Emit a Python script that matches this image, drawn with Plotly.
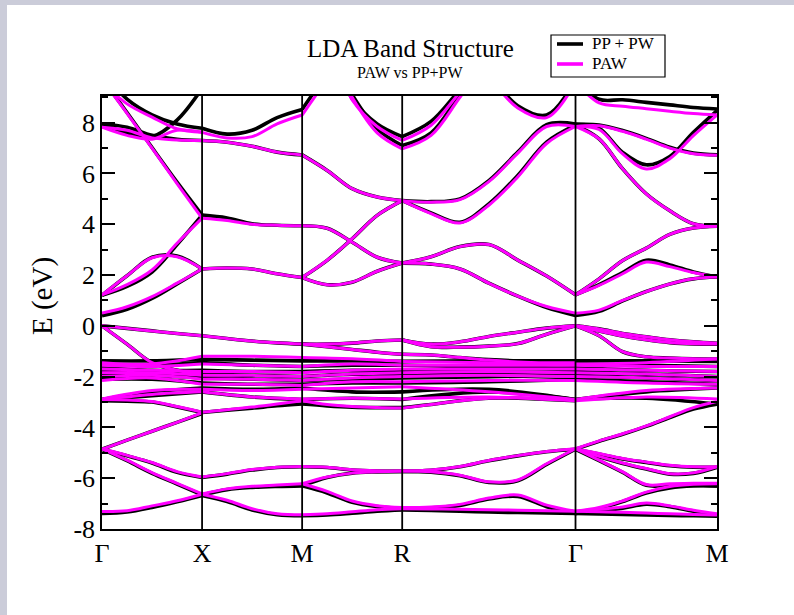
import plotly.graph_objects as go

# ---------------- data ----------------
K_NODES = [0.0, 0.5, 1.0, 1.5, 2.366, 3.073]
K_LABELS = ["Γ", "X", "M", "R", "Γ", "M"]
Y_TICKS = [-8, -6, -4, -2, 0, 2, 4, 6, 8]
Y_TICK_TEXT = ["-8", "-6", "-4", "-2", "0", "2", "4", "6", "8"]

# Energies (eV) sampled at equal steps along each path segment
# Segment 0: Gamma - X
PPPW_GX = [
    [1.2, 1.97, 2.7, 2.75, 2.24], [1.2, 1.55, 2.12, 3.2, 4.36], [9.75, 8.4, 7.02, 5.66, 4.36],
    [0.4, 0.65, 1.08, 1.65, 2.24], [7.95, 7.82, 7.5, 7.35, 7.3], [7.95, 7.6, 7.45, 8.1, 9.35],
    [10.0, 8.93, 8.31, 7.95, 7.78], [0, -0.1, -0.2, -0.3, -0.39], [0, -0.72, -1.45, -1.75, -1.9],
    [-2.95, -2.97, -3.0, -3.2, -3.41], [-4.86, -4.5, -4.15, -3.8, -3.45],
    [-4.86, -5.12, -5.4, -5.77, -5.97], [-4.86, -5.31, -5.81, -6.23, -6.66],
    [-7.39, -7.33, -7.15, -6.93, -6.68],
]
PAW_GX = [
    [1.22, 1.97, 2.68, 2.72, 2.24], [1.22, 1.62, 2.2, 3.25, 4.24], [9.7, 8.37, 7.0, 5.6, 4.24],
    [0.5, 0.75, 1.15, 1.68, 2.24], [7.82, 7.7, 7.4, 7.32, 7.3], [7.82, 7.5, 7.35, 7.7, 7.62],
    [9.6, 8.74, 8.22, 7.76, 7.62], [0, -0.1, -0.2, -0.3, -0.39], [0, -0.72, -1.45, -1.75, -1.9],
    [-2.9, -2.92, -2.98, -3.18, -3.4], [-4.86, -4.5, -4.15, -3.8, -3.43],
    [-4.84, -5.1, -5.38, -5.74, -5.95], [-4.84, -5.29, -5.78, -6.2, -6.62],
    [-7.31, -7.28, -7.09, -6.89, -6.63],
]
# Segment 1: X - M
PPPW_XM = [
    [4.36, 4.25, 4.02, 3.96, 3.94], [2.24, 2.28, 2.24, 2.05, 1.9], [7.3, 7.23, 7.07, 6.84, 6.73],
    [7.78, 7.55, 7.7, 8.2, 8.52], [-0.39, -0.5, -0.6, -0.67, -0.72],
    [-3.41, -3.32, -3.24, -3.15, -3.08], [-5.97, -5.84, -5.68, -5.58, -5.55],
    [-6.66, -6.45, -6.36, -6.32, -6.3], [-6.68, -6.92, -7.25, -7.44, -7.48],
]
PAW_XM = [
    [4.24, 4.15, 4.0, 3.96, 3.94], [2.24, 2.28, 2.24, 2.05, 1.9], [7.3, 7.23, 7.07, 6.84, 6.73],
    [7.62, 7.4, 7.45, 7.95, 8.3], [-0.39, -0.5, -0.6, -0.67, -0.72],
    [-3.4, -3.3, -3.2, -3.08, -2.95], [-5.95, -5.82, -5.66, -5.57, -5.54],
    [-6.62, -6.42, -6.32, -6.27, -6.22], [-6.63, -6.87, -7.2, -7.4, -7.44],
]
# Segment 2: M - R
PPPW_MR = [
    [6.73, 6.12, 5.4, 5.07, 4.93], [3.94, 3.84, 3.29, 2.7, 2.47], [1.9, 2.58, 3.43, 4.35, 4.93],
    [1.9, 1.62, 1.72, 2.15, 2.47], [8.52, 9.9, 11, 11, 11], [11, 11, 8.95, 7.95, 7.45],
    [11, 11, 9.1, 7.75, 7.1], [-0.72, -0.72, -0.68, -0.6, -0.56], [-0.72, -0.82, -0.93, -1.04, -1.12],
    [-3.08, -3.15, -3.2, -3.22, -3.22], [-5.55, -5.58, -5.68, -5.72, -5.73],
    [-6.3, -5.97, -5.8, -5.75, -5.73], [-6.3, -6.58, -6.95, -7.12, -7.2],
    [-7.48, -7.45, -7.38, -7.3, -7.25],
]
PAW_MR = [
    [6.73, 6.12, 5.4, 5.07, 4.93], [3.94, 3.84, 3.29, 2.7, 2.47], [1.9, 2.58, 3.43, 4.35, 4.93],
    [1.9, 1.62, 1.72, 2.15, 2.47], [8.3, 9.7, 11, 11, 11], [11, 11, 8.9, 7.85, 7.3],
    [11, 11, 9.0, 7.6, 6.97], [-0.72, -0.72, -0.68, -0.6, -0.56], [-0.72, -0.82, -0.93, -1.04, -1.12],
    [-2.95, -3.1, -3.18, -3.22, -3.24], [-5.54, -5.57, -5.67, -5.71, -5.72],
    [-6.22, -5.95, -5.8, -5.75, -5.72], [-6.22, -6.52, -6.9, -7.08, -7.15],
    [-7.44, -7.4, -7.32, -7.24, -7.2],
]
# Segment 3: R - Gamma
PPPW_RG = [
    [4.93, 4.89, 5.0, 5.72, 6.84, 7.92, 7.95], [4.93, 4.45, 4.08, 4.8, 5.92, 7.23, 7.9],
    [2.47, 2.72, 3.12, 3.2, 2.59, 1.96, 1.22], [2.47, 2.43, 2.24, 1.68, 1.17, 0.72, 0.41],
    [7.45, 8.05, 9.3, 10.5, 11, 11, 11], [7.1, 7.6, 9.1, 10.5, 11, 11, 11],
    [11, 11, 11, 9.9, 8.67, 8.3, 9.7],
    [-0.56, -0.72, -0.63, -0.42, -0.25, -0.09, 0], [-0.56, -0.82, -0.84, -0.8, -0.7, -0.33, 0],
    [-1.12, -1.15, -1.25, -1.33, -1.38, -1.38, -1.38],
    [-3.22, -3.1, -2.95, -2.85, -2.85, -2.9, -2.95],
    [-5.73, -5.69, -5.55, -5.31, -5.12, -4.96, -4.86], [-5.73, -5.76, -5.9, -6.17, -6.1, -5.46, -4.86],
    [-7.2, -7.17, -7.07, -6.82, -6.72, -7.12, -7.39], [-7.25, -7.27, -7.3, -7.33, -7.35, -7.37, -7.39],
]
PAW_RG = [
    [4.93, 4.87, 4.97, 5.68, 6.8, 7.85, 7.85], [4.93, 4.42, 4.05, 4.75, 5.86, 7.18, 7.85],
    [2.47, 2.72, 3.12, 3.2, 2.59, 1.96, 1.22], [2.47, 2.43, 2.24, 1.68, 1.17, 0.76, 0.5],
    [7.3, 7.9, 9.2, 10.5, 11, 11, 11], [6.97, 7.5, 9.0, 10.5, 11, 11, 11],
    [11, 11, 11, 9.8, 8.58, 8.2, 9.6],
    [-0.56, -0.72, -0.63, -0.42, -0.25, -0.09, 0], [-0.56, -0.82, -0.84, -0.8, -0.7, -0.33, 0],
    [-1.12, -1.15, -1.25, -1.35, -1.42, -1.45, -1.45],
    [-3.24, -3.1, -2.95, -2.85, -2.83, -2.88, -2.9],
    [-5.72, -5.68, -5.54, -5.3, -5.11, -4.95, -4.84], [-5.72, -5.75, -5.88, -6.14, -6.07, -5.43, -4.84],
    [-7.15, -7.13, -7.03, -6.78, -6.66, -7.06, -7.3], [-7.2, -7.21, -7.22, -7.24, -7.26, -7.28, -7.3],
]
# Segment 4: Gamma - M
PPPW_GM = [
    [1.22, 1.62, 2.1, 2.58, 2.4, 2.12, 1.92], [1.22, 1.85, 2.57, 3.06, 3.6, 3.85, 3.92],
    [0.41, 0.57, 0.98, 1.35, 1.65, 1.85, 1.92], [7.9, 7.36, 6.18, 5.2, 4.53, 4.02, 3.92],
    [7.95, 7.78, 6.83, 6.34, 6.67, 7.62, 8.48], [7.93, 7.91, 7.69, 7.38, 7.03, 6.8, 6.73],
    [9.7, 8.92, 8.9, 8.8, 8.7, 8.6, 8.54],
    [0, -0.12, -0.3, -0.43, -0.55, -0.63, -0.69], [0, -0.2, -0.4, -0.55, -0.66, -0.71, -0.72],
    [0, -0.39, -1.02, -1.22, -1.27, -1.3, -1.31],
    [-4.86, -4.55, -4.27, -3.96, -3.61, -3.28, -3.08], [-4.86, -5.05, -5.24, -5.38, -5.51, -5.57, -5.57],
    [-4.86, -5.16, -5.42, -5.64, -5.84, -5.81, -5.57], [-4.86, -5.31, -5.77, -6.28, -6.28, -6.28, -6.3],
    [-7.39, -7.2, -6.92, -6.58, -6.38, -6.3, -6.3], [-7.39, -7.3, -7.18, -7.02, -7.12, -7.3, -7.45],
    [-7.39, -7.41, -7.43, -7.45, -7.47, -7.48, -7.5],
]
PAW_GM = [
    [1.22, 1.59, 2.05, 2.51, 2.33, 2.1, 1.92], [1.22, 1.85, 2.57, 3.06, 3.6, 3.85, 3.92],
    [0.5, 0.62, 1.0, 1.35, 1.65, 1.85, 1.92], [7.85, 7.36, 6.18, 5.2, 4.53, 4.02, 3.92],
    [7.85, 7.73, 6.77, 6.18, 6.58, 7.49, 8.3], [7.85, 7.88, 7.66, 7.35, 7.0, 6.78, 6.72],
    [9.6, 8.78, 8.65, 8.55, 8.45, 8.36, 8.3],
    [0, -0.12, -0.3, -0.43, -0.55, -0.63, -0.69], [0, -0.2, -0.4, -0.55, -0.66, -0.71, -0.72],
    [0, -0.39, -1.02, -1.22, -1.27, -1.3, -1.31],
    [-4.84, -4.53, -4.25, -3.94, -3.58, -3.22, -2.98], [-4.84, -5.03, -5.22, -5.36, -5.49, -5.55, -5.55],
    [-4.84, -5.14, -5.4, -5.62, -5.82, -5.79, -5.55], [-4.84, -5.29, -5.75, -6.25, -6.22, -6.2, -6.2],
    [-7.3, -7.15, -6.89, -6.55, -6.33, -6.24, -6.22], [-7.3, -7.22, -7.13, -6.98, -7.09, -7.26, -7.4],
    [-7.3, -7.32, -7.34, -7.37, -7.4, -7.43, -7.45],
]
# Dense manifold between -1.2 and -3.1 eV (start, middle, end of each segment)
PPPW_TANGLE = [
    [[-1.38, -1.38, -1.32], [-1.5, -1.55, -1.45], [-1.65, -1.75, -1.75], [-1.8, -1.85, -1.9],
     [-1.95, -1.95, -2.05], [-2.1, -2.1, -2.25], [-2.9, -2.6, -2.45], [-2.9, -2.75, -2.6]],
    [[-1.32, -1.35, -1.38], [-1.45, -1.55, -1.6], [-1.75, -1.8, -1.8], [-1.9, -1.95, -2.0],
     [-2.05, -2.1, -2.15], [-2.25, -2.3, -2.3], [-2.45, -2.5, -2.45], [-2.6, -2.8, -2.9]],
    [[-1.38, -1.38, -1.4], [-1.6, -1.55, -1.55], [-1.8, -1.75, -1.75], [-2.0, -1.9, -1.9],
     [-2.15, -2.1, -2.05], [-2.3, -2.25, -2.25], [-2.45, -2.6, -2.6], [-2.9, -2.85, -2.9]],
    [[-1.4, -1.38, -1.38], [-1.55, -1.6, -1.5], [-1.75, -1.7, -1.65], [-1.9, -1.85, -1.8],
     [-2.05, -2.0, -1.95], [-2.25, -2.2, -2.1], [-2.6, -2.5, -2.9], [-2.9, -2.6, -2.9]],
    [[-1.38, -1.38, -1.4], [-1.5, -1.55, -1.6], [-1.65, -1.75, -1.8], [-1.8, -1.9, -2.0],
     [-1.95, -2.05, -2.15], [-2.1, -2.2, -2.3], [-2.9, -2.6, -2.45], [-2.9, -2.85, -3.08]],
]
PAW_TANGLE = [
    [[-1.45, -1.5, -1.2], [-1.55, -1.6, -1.5], [-1.7, -1.75, -1.8], [-1.85, -1.85, -1.95],
     [-2.0, -1.95, -2.1], [-2.15, -2.05, -2.3], [-2.88, -2.55, -2.5], [-2.9, -2.7, -2.6]],
    [[-1.2, -1.2, -1.25], [-1.5, -1.55, -1.6], [-1.8, -1.8, -1.85], [-1.95, -1.95, -2.0],
     [-2.1, -2.1, -2.15], [-2.3, -2.3, -2.35], [-2.5, -2.55, -2.5], [-2.6, -2.8, -2.88]],
    [[-1.25, -1.3, -1.4], [-1.6, -1.5, -1.55], [-1.85, -1.75, -1.7], [-2.0, -1.9, -1.85],
     [-2.15, -2.05, -2.0], [-2.35, -2.2, -2.2], [-2.5, -2.45, -2.4], [-2.88, -2.85, -2.88]],
    [[-1.4, -1.45, -1.5], [-1.55, -1.55, -1.55], [-1.7, -1.7, -1.7], [-1.85, -1.8, -1.85],
     [-2.0, -1.95, -2.0], [-2.2, -2.15, -2.15], [-2.4, -2.6, -2.9], [-2.88, -2.8, -2.95]],
    [[-1.5, -1.45, -1.3], [-1.55, -1.6, -1.6], [-1.7, -1.75, -1.8], [-1.85, -1.9, -2.0],
     [-2.0, -2.05, -2.15], [-2.15, -2.25, -2.3], [-2.9, -2.55, -2.45], [-2.95, -2.8, -2.88]],
]

PPPW_SEGMENTS = [PPPW_GX, PPPW_XM, PPPW_MR, PPPW_RG, PPPW_GM]
PAW_SEGMENTS = [PAW_GX, PAW_XM, PAW_MR, PAW_RG, PAW_GM]

# ---------------- build ----------------
def build(segments, tangle):
    xs, ys = [], []
    for s in range(5):
        k0, k1 = K_NODES[s], K_NODES[s + 1]
        for curve in segments[s] + tangle[s]:
            n = len(curve)
            for i, e in enumerate(curve):
                xs.append(k0 + (k1 - k0) * i / (n - 1))
                ys.append(e)
            xs.append(None)
            ys.append(None)
    return xs, ys

bx, by = build(PPPW_SEGMENTS, PPPW_TANGLE)
mx, my = build(PAW_SEGMENTS, PAW_TANGLE)

FONT = "Liberation Serif, Times New Roman, serif"
GRAY = "#cbccd9"
L, R, T, B = 102, 77, 96, 86
W, H = 794, 615
PW, PH = W - L - R, H - T - B

def px(x):
    return (x - L) / PW

def py(y):
    return (H - B - y) / PH

fig = go.Figure()
fig.add_trace(go.Scatter(x=bx, y=by, mode="lines", name="PP + PW",
                         line=dict(color="#000000", width=3.6, shape="spline"),
                         showlegend=False, hoverinfo="skip"))
fig.add_trace(go.Scatter(x=mx, y=my, mode="lines", name="PAW",
                         line=dict(color="#ff00ff", width=3, shape="spline"),
                         showlegend=False, hoverinfo="skip"))

shapes = [
    # grey window frame on the left and top
    dict(type="rect", xref="paper", yref="paper", x0=px(-10), x1=px(7), y0=py(630), y1=py(-10),
         fillcolor=GRAY, line=dict(width=0), layer="below"),
    dict(type="rect", xref="paper", yref="paper", x0=px(-10), x1=px(810), y0=py(5), y1=py(-10),
         fillcolor=GRAY, line=dict(width=0), layer="below"),
    # legend box
    dict(type="rect", xref="paper", yref="paper", x0=px(551), x1=px(665), y0=py(77), y1=py(35),
         fillcolor="white", line=dict(color="black", width=1.2)),
    dict(type="line", xref="paper", yref="paper", x0=px(557), x1=px(583), y0=py(44), y1=py(44),
         line=dict(color="black", width=3.6)),
    dict(type="line", xref="paper", yref="paper", x0=px(557), x1=px(583), y0=py(64), y1=py(64),
         line=dict(color="#ff00ff", width=3.6)),
]
for k in K_NODES[1:-1]:
    shapes.append(dict(type="line", xref="x", yref="paper", x0=k, x1=k, y0=0, y1=1,
                       line=dict(color="black", width=1.8), layer="above"))

def note(text, x, y, size, angle=0, xanchor="center"):
    return dict(text=text, x=px(x), y=py(y), xref="paper", yref="paper",
                xanchor=xanchor, yanchor="middle", textangle=angle, showarrow=False,
                font=dict(family=FONT, size=size, color="black"))

annotations = [
    note("LDA Band Structure", 410, 48, 25),
    note("PAW vs PP+PW", 410, 73, 16),
    note("PP + PW", 590, 44, 17, xanchor="left"),
    note("PAW", 590, 64, 17, xanchor="left"),
    note("E (eV)", 42, 296, 29, angle=-90),
]

fig.update_layout(
    width=W, height=H,
    margin=dict(l=L, r=R, t=T, b=B),
    paper_bgcolor="white",
    plot_bgcolor="white",
    shapes=shapes,
    annotations=annotations,
    xaxis=dict(range=[K_NODES[0], K_NODES[-1]], tickvals=K_NODES, ticktext=K_LABELS,
               ticks="", showgrid=False, zeroline=False, showline=True, mirror=True,
               linecolor="black", linewidth=1.5,
               tickfont=dict(family=FONT, size=26, color="black")),
    yaxis=dict(range=[-8, 9.05], tickvals=Y_TICKS, ticktext=Y_TICK_TEXT,
               ticks="inside", ticklen=13, tickwidth=1.5, tickcolor="black",
               minor=dict(ticks="inside", ticklen=6, dtick=1, tickwidth=1.5, tickcolor="black"),
               showgrid=False, zeroline=False, showline=True, mirror="allticks",
               linecolor="black", linewidth=1.5,
               tickfont=dict(family=FONT, size=26, color="black")),
)

fig.write_html("out.html", config={"displayModeBar": False},
               post_script="document.body.style.margin='0';document.body.style.overflow='hidden';")
